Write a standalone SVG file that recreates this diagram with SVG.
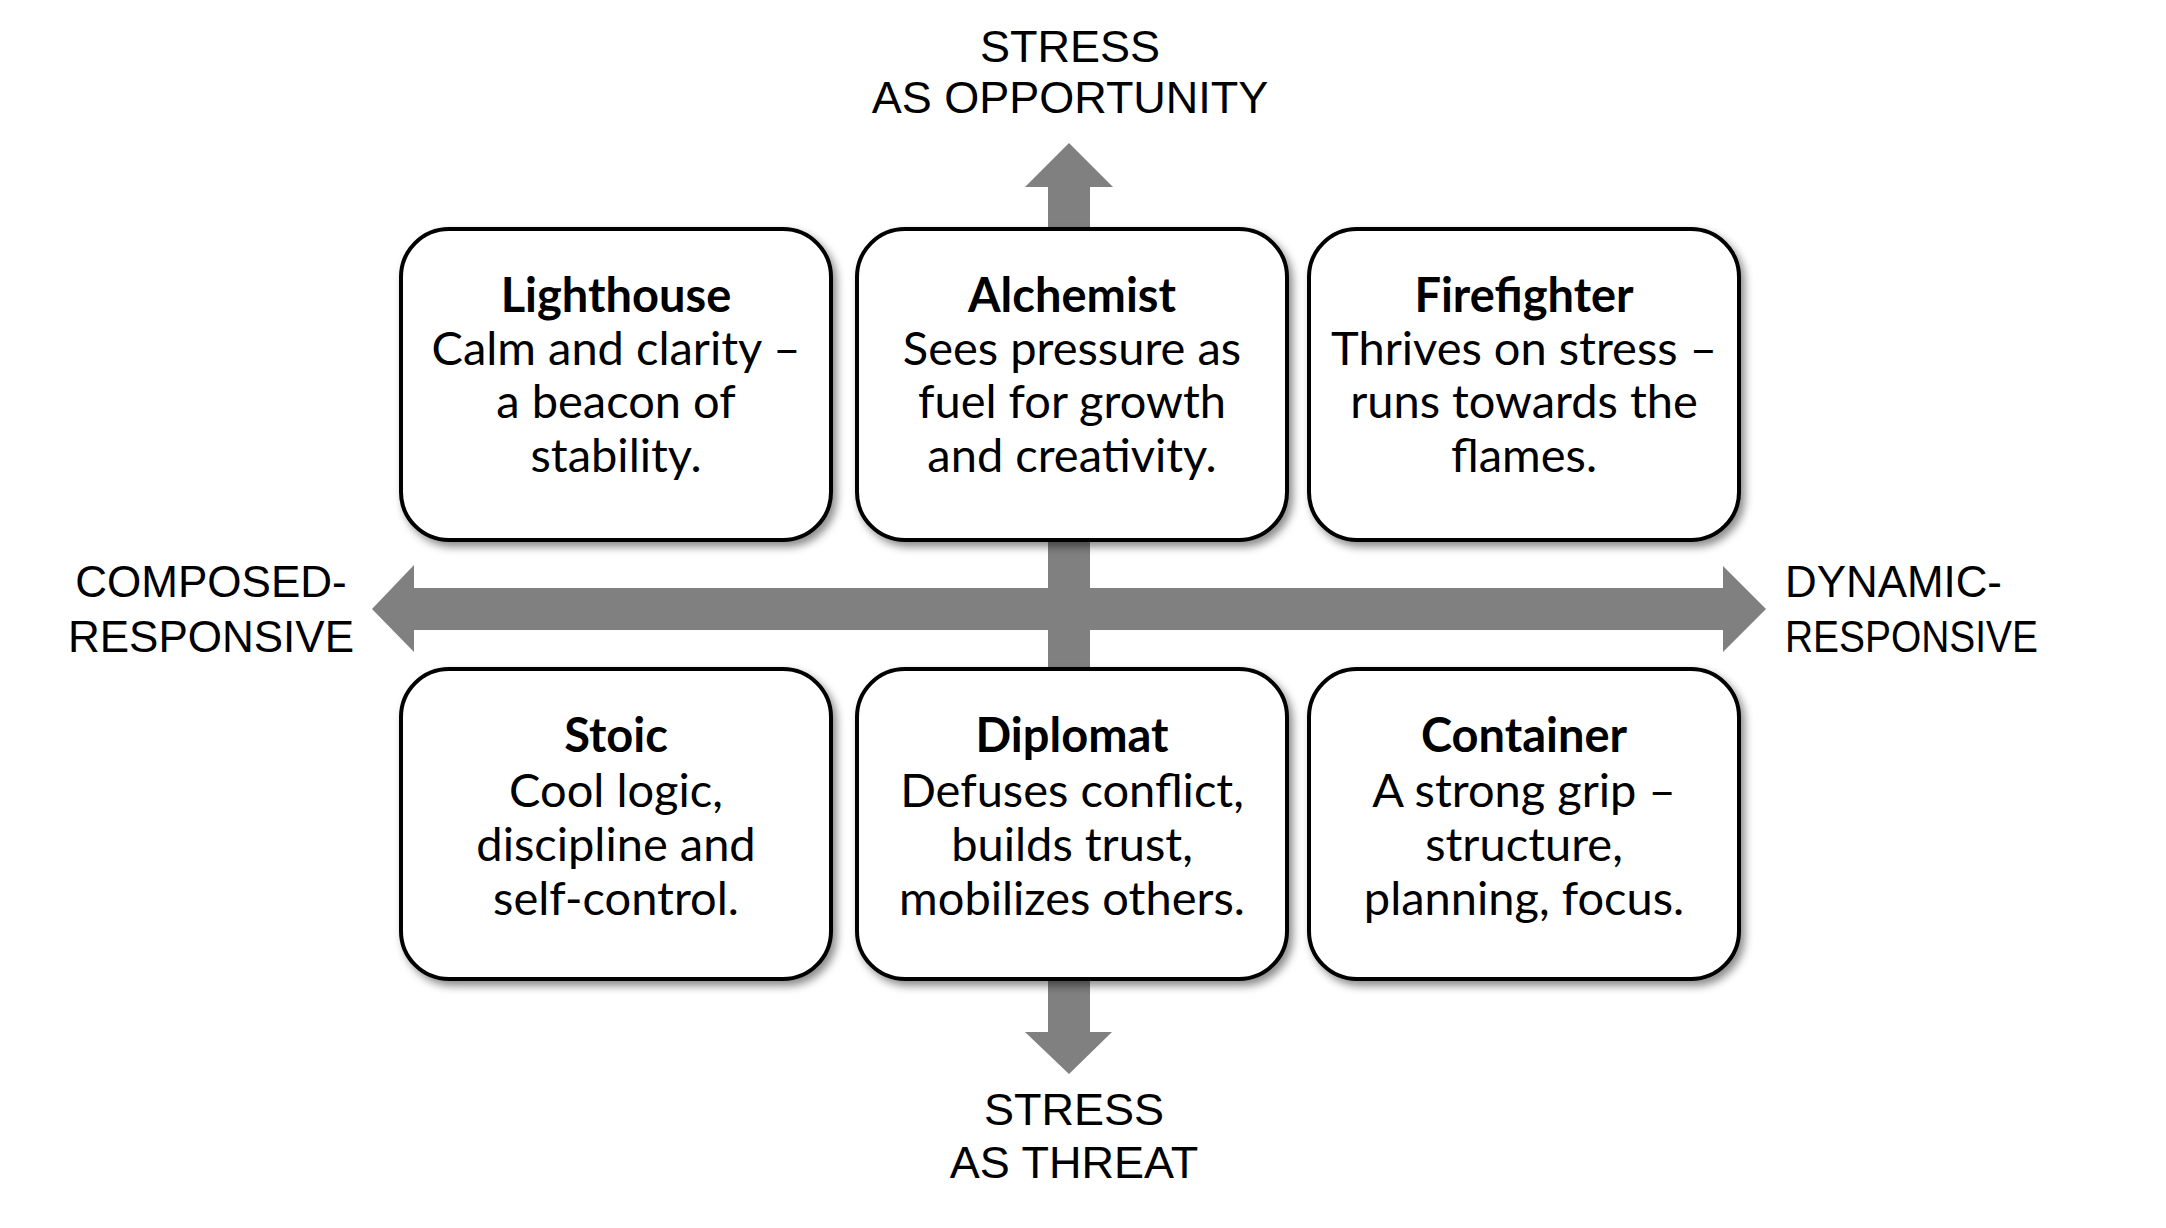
<svg xmlns="http://www.w3.org/2000/svg" width="2166" height="1228" viewBox="0 0 2166 1228">
<defs>
<filter id="sh" x="-10%" y="-10%" width="125%" height="130%">
<feDropShadow dx="4" dy="5" stdDeviation="4" flood-color="#000" flood-opacity="0.45"/>
</filter>
<style>
.box{fill:#fff;stroke:#000;stroke-width:4;filter:url(#sh)}
.arrow{fill:#808080;stroke:none}
.ax{font-family:"Liberation Sans",Arial,sans-serif;font-size:45px;fill:#000}
.t{font-family:Lato,"Noto Sans",sans-serif;font-size:47px;fill:#000;text-anchor:middle}
.b{font-weight:bold}
</style>
</defs>
<rect width="2166" height="1228" fill="#fff"/>
<g id="connectors">
<polygon class="arrow" points="1069,143 1113,187 1090,187 1090,1032 1112,1032 1069,1074 1025,1032 1048,1032 1048,187 1025,187"/>
<polygon class="arrow" points="372,609 414,565 414,588 1723,588 1723,566 1766,609 1723,652 1723,630 414,630 414,652"/>
</g>
<g id="axis-labels">
<text class="ax" x="1070" y="62" text-anchor="middle">STRESS</text>
<text class="ax" x="1070" y="113" text-anchor="middle">AS OPPORTUNITY</text>
<text class="ax" x="1074" y="1125" text-anchor="middle">STRESS</text>
<text class="ax" x="1074" y="1178" text-anchor="middle">AS THREAT</text>
<text class="ax" x="211" y="597" text-anchor="middle" style="font-size:44px">COMPOSED-</text>
<text class="ax" x="211" y="652" text-anchor="middle" style="font-size:44px">RESPONSIVE</text>
<text class="ax" x="1785" y="597" textLength="217" lengthAdjust="spacingAndGlyphs" style="font-size:44px">DYNAMIC-</text>
<text class="ax" x="1785" y="652" textLength="253" lengthAdjust="spacingAndGlyphs" style="font-size:44px">RESPONSIVE</text>
</g>
<g id="lighthouse">
<rect class="box" x="401" y="229" width="430" height="311" rx="48"/>
<text class="t b" x="616" y="312">Lighthouse</text>
<text class="t" x="616" y="365">Calm and clarity –</text>
<text class="t" x="616" y="418">a beacon of</text>
<text class="t" x="616" y="472">stability.</text>
</g>
<g id="alchemist">
<rect class="box" x="857" y="229" width="430" height="311" rx="48"/>
<text class="t b" x="1072" y="312">Alchemist</text>
<text class="t" x="1072" y="365">Sees pressure as</text>
<text class="t" x="1072" y="418">fuel for growth</text>
<text class="t" x="1072" y="472">and creativity.</text>
</g>
<g id="firefighter">
<rect class="box" x="1309" y="229" width="430" height="311" rx="48"/>
<text class="t b" x="1524" y="312">Firefighter</text>
<text class="t" x="1524" y="365">Thrives on stress –</text>
<text class="t" x="1524" y="418">runs towards the</text>
<text class="t" x="1524" y="472">flames.</text>
</g>
<g id="stoic">
<rect class="box" x="401" y="669" width="430" height="310" rx="48"/>
<text class="t b" x="616" y="752">Stoic</text>
<text class="t" x="616" y="807">Cool logic,</text>
<text class="t" x="616" y="861">discipline and</text>
<text class="t" x="616" y="915">self-control.</text>
</g>
<g id="diplomat">
<rect class="box" x="857" y="669" width="430" height="310" rx="48"/>
<text class="t b" x="1072" y="752">Diplomat</text>
<text class="t" x="1072" y="807">Defuses conflict,</text>
<text class="t" x="1072" y="861">builds trust,</text>
<text class="t" x="1072" y="915">mobilizes others.</text>
</g>
<g id="container">
<rect class="box" x="1309" y="669" width="430" height="310" rx="48"/>
<text class="t b" x="1524" y="752">Container</text>
<text class="t" x="1524" y="807">A strong grip –</text>
<text class="t" x="1524" y="861">structure,</text>
<text class="t" x="1524" y="915">planning, focus.</text>
</g>
</svg>
